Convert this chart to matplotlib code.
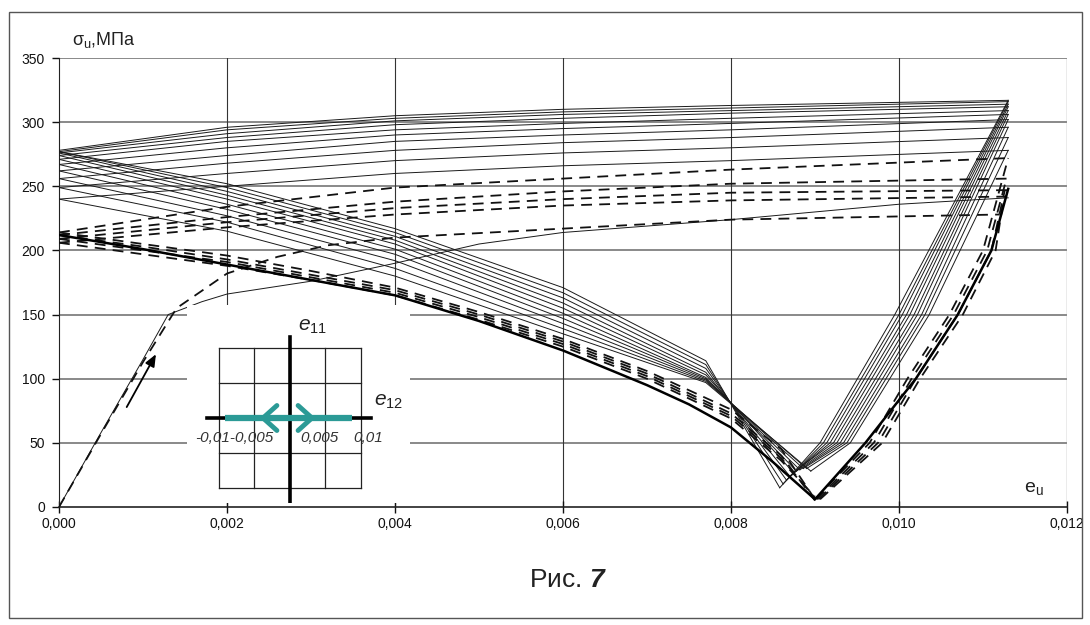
import matplotlib.pyplot as plt
from matplotlib.patches import Rectangle

plt.rcParams['font.family'] = ['Liberation Sans', 'DejaVu Sans']
plt.rcParams['mathtext.fontset'] = 'custom'
plt.rcParams['mathtext.rm'] = 'Liberation Sans'
plt.rcParams['mathtext.it'] = 'Liberation Sans:italic'
plt.rcParams['mathtext.bf'] = 'Liberation Sans:bold'
plt.rcParams['mathtext.bfit'] = 'Liberation Sans:italic:bold'

# ---------------- data ----------------
x_ticks = [0.0, 0.002, 0.004, 0.006, 0.008, 0.010, 0.012]
x_tick_labels = ['0,000', '0,002', '0,004', '0,006', '0,008', '0,010', '0,012']
y_ticks = [0, 50, 100, 150, 200, 250, 300, 350]

# first loading
load_solid_x = [0, 0.0005, 0.001, 0.0013, 0.0017, 0.002, 0.003, 0.004, 0.005, 0.006, 0.008, 0.010, 0.0113]
load_solid_y = [0, 58, 115, 150, 160, 166, 176, 190, 205, 214, 224, 236, 241]
load_dash_x = [0, 0.0005, 0.001, 0.0014, 0.002, 0.0026, 0.0032, 0.004, 0.006, 0.008, 0.0112]
load_dash_y = [0, 57, 113, 155, 182, 195, 204, 210, 217, 224, 228]

# solid cycles: upper branches (e_u 0 -> 0.0113)
up_x = [0, 0.002, 0.004, 0.006, 0.008, 0.0113]
up_s0 = [278, 296, 305, 310, 313, 317]
up_s1 = [277, 294, 303, 308, 311, 316]
up_s2 = [276, 291, 301, 306, 309, 314]
up_s3 = [274, 288, 298, 303, 307, 312]
up_s4 = [271, 285, 294, 299, 303, 309]
up_s5 = [267, 280, 290, 295, 299, 306]
up_s6 = [262, 274, 285, 290, 294, 302]
up_s7 = [256, 268, 278, 284, 288, 296]
up_s8 = [249, 260, 270, 276, 280, 288]
up_s9 = [240, 250, 260, 266, 270, 278]

# solid cycles: descending branches down to the V minimum
desc_x = [0, 0.002, 0.004, 0.006, 0.0077]
desc_s0 = [277, 252, 217, 171, 114]
desc_s1 = [277, 249, 214, 167, 111]
desc_s2 = [276, 246, 211, 163, 108]
desc_s3 = [274, 243, 208, 159, 105]
desc_s4 = [271, 240, 205, 155, 103]
desc_s5 = [267, 236, 201, 151, 101]
desc_s6 = [262, 232, 197, 147, 100]
desc_s7 = [256, 227, 192, 143, 99]
desc_s8 = [249, 222, 186, 139, 98]
desc_s9 = [240, 215, 180, 135, 97]
min_x = [0.00858, 0.00862, 0.00866, 0.0087, 0.00874, 0.00878, 0.00882, 0.00886, 0.0089, 0.00895]
min_y = [15, 18, 21, 24, 27, 28, 29, 30, 30, 28]

# solid cycles: rising branches from the minimum
rise_x50 = [0.00906, 0.0091, 0.00914, 0.00918, 0.00922, 0.00926, 0.0093, 0.00934, 0.00938, 0.00942]
rise_x150 = [0.00995, 0.01, 0.01004, 0.01009, 0.01013, 0.01018, 0.01022, 0.01027, 0.01031, 0.01036]
rise_top = [317, 316, 314, 312, 309, 306, 302, 296, 288, 278]

# dashed cycles: upper branches
up_d0 = [214, 234, 249, 256, 263, 272]
up_d1 = [212, 226, 238, 246, 252, 256]
up_d2 = [209, 222, 233, 240, 245, 247]
up_d3 = [206, 218, 228, 235, 239, 242]

# dashed cycles: descending branches
ddesc_x = [0, 0.001, 0.002, 0.003, 0.004, 0.005, 0.006, 0.007, 0.008, 0.0086, 0.009]
ddesc_d0 = [214, 205, 196, 184, 171, 152, 131, 106, 76, 45, 6]
ddesc_d1 = [212, 203, 193, 181, 169, 150, 129, 104, 73, 40, 5]
ddesc_d2 = [209, 200, 191, 179, 167, 148, 127, 102, 71, 38, 7]
ddesc_d3 = [206, 197, 188, 177, 165, 146, 125, 100, 69, 36, 8]

# dashed cycles: rising branches
drise_y0 = [6, 50, 100, 150, 200, 272]
drise_y1 = [6, 50, 100, 150, 200, 256]
drise_y2 = [6, 50, 100, 150, 200, 247]
drise_y3 = [6, 50, 100, 150, 200, 242]
drise_x0 = [0.009, 0.00965, 0.0101, 0.0106, 0.011, 0.0113]
drise_x1 = [0.00902, 0.0097, 0.01015, 0.01065, 0.01105, 0.01128]
drise_x2 = [0.00904, 0.00975, 0.0102, 0.0107, 0.0111, 0.01126]
drise_x3 = [0.00906, 0.0098, 0.01025, 0.01076, 0.01115, 0.01125]

# thick lower envelope
env_x = [0, 0.001, 0.002, 0.003, 0.004, 0.005, 0.006, 0.007, 0.0075, 0.008, 0.0085,
         0.009, 0.0096, 0.0102, 0.0107, 0.0111, 0.0113]
env_y = [212, 201, 189, 177, 165, 145, 122, 95, 80, 62, 35, 6, 50, 100, 150, 200, 248]

# ---------------- figure ----------------
fig = plt.figure(figsize=(10.9, 6.25), dpi=100)
fig.patches.append(Rectangle((9 / 1090, 1 - 618 / 625), 1073 / 1090, 606 / 625,
                             transform=fig.transFigure, fill=False,
                             edgecolor='#555555', lw=1.0))

ax = fig.add_axes([59 / 1090, 1 - 507 / 625, 1008 / 1090, 449 / 625])
ax.set_xlim(0, 0.012)
ax.set_ylim(0, 350)

for yv in y_ticks[1:]:
    ax.axhline(yv, color='#6a6a6a', lw=1.1, zorder=1)
for xv in x_ticks[1:-1]:
    ax.axvline(xv, color='#333333', lw=0.8, zorder=1)
ax.axvline(0.012, color='#9a9a9a', lw=1.0, zorder=1)

for s in ['top', 'right']:
    ax.spines[s].set_visible(False)
ax.spines['left'].set_color('#222222')
ax.spines['bottom'].set_color('#222222')
ax.spines['bottom'].set_linewidth(1.2)

ax.set_xticks(x_ticks)
ax.set_xticklabels(x_tick_labels)
ax.set_yticks(y_ticks)
ax.tick_params(axis='x', direction='inout', length=8, width=1, pad=3, labelsize=10, colors='#111111')
ax.tick_params(axis='y', direction='out', length=5, width=1, pad=5, labelsize=10, colors='#111111')

thin = dict(color='#1a1a1a', lw=0.7, zorder=3)
dash = dict(color='#111111', lw=1.3, ls=(0, (6, 4)), zorder=3)

ax.plot(load_solid_x, load_solid_y, **thin)
ax.plot(load_dash_x, load_dash_y, **dash)

ups = [up_s0, up_s1, up_s2, up_s3, up_s4, up_s5, up_s6, up_s7, up_s8, up_s9]
descs = [desc_s0, desc_s1, desc_s2, desc_s3, desc_s4, desc_s5, desc_s6, desc_s7, desc_s8, desc_s9]
for i in range(len(ups)):
    ax.plot(up_x, ups[i], **thin)
    ax.plot(desc_x + [min_x[i]], descs[i] + [min_y[i]], **thin)
    ax.plot([min_x[i], rise_x50[i], rise_x150[i], 0.0113],
            [min_y[i], 50, 150, rise_top[i]], **thin)

for yy in [up_d0, up_d1, up_d2, up_d3]:
    ax.plot(up_x, yy, **dash)
for yy in [ddesc_d0, ddesc_d1, ddesc_d2, ddesc_d3]:
    ax.plot(ddesc_x, yy, **dash)
for xx, yy in zip([drise_x0, drise_x1, drise_x2, drise_x3],
                  [drise_y0, drise_y1, drise_y2, drise_y3]):
    ax.plot(xx, yy, **dash)

ax.plot(env_x, env_y, color='#000000', lw=1.8, zorder=4)

# loading direction arrow
ax.annotate('', xy=(0.00117, 121), xytext=(0.00079, 76),
            arrowprops=dict(arrowstyle='-|>,head_length=0.6,head_width=0.25',
                            color='black', lw=1.3, mutation_scale=12))

ax.text(0.01160, 12, r'$\mathregular{e_u}$', fontsize=14, color='#222222', ha='center')
fig.text(72 / 1090, 1 - 40 / 625, r'$\mathregular{σ_u}$,МПа', fontsize=13,
         color='#222222', va='center')
fig.text(568 / 1090, 1 - 580 / 625, r'Рис. $\mathbfit{7}$', fontsize=19,
         color='#222222', ha='center', va='center')

# ---------------- inset: strain path ----------------
ins = fig.add_axes([187 / 1090, 1 - 503 / 625, 223 / 1090, 198 / 625])
ins.set_xlim(-0.0145, 0.0169)
ins.set_ylim(-0.01214, 0.01614)
ins.set_xticks([])
ins.set_yticks([])
for s in ins.spines.values():
    s.set_visible(False)
ins.set_facecolor('white')

cells = [-0.01, -0.005, 0, 0.005, 0.01]
for c in cells:
    ins.plot([c, c], [-0.01, 0.01], color='#222222', lw=0.9)
    ins.plot([-0.01, 0.01], [c, c], color='#222222', lw=0.9)
ins.plot([-0.0117, 0.0114], [0, 0], color='black', lw=2.6)
ins.plot([0, 0], [-0.012, 0.0116], color='black', lw=2.6)

teal = '#2b9a96'
ins.plot([-0.0092, 0.0087], [0, 0], color=teal, lw=4.5, solid_capstyle='butt')
ins.annotate('', xy=(-0.0047, 0), xytext=(-0.0015, 0),
             arrowprops=dict(arrowstyle='->,head_length=0.5,head_width=0.45',
                             color=teal, lw=3.5, mutation_scale=20))
ins.annotate('', xy=(0.0040, 0), xytext=(0.0008, 0),
             arrowprops=dict(arrowstyle='->,head_length=0.5,head_width=0.45',
                             color=teal, lw=3.5, mutation_scale=20))

lab = dict(fontsize=11, style='italic', color='#333333', va='center')
ins.text(-0.0079, -0.0029, '-0,01-0,005', ha='center', **lab)
ins.text(0.0042, -0.0029, '0,005', ha='center', **lab)
ins.text(0.0110, -0.0029, '0,01', ha='center', **lab)
ins.text(0.0012, 0.0130, r'$e_{\mathit{11}}$', fontsize=15, color='#222222', va='center')
ins.text(0.0118, 0.0024, r'$e_{\mathit{12}}$', fontsize=15, color='#222222', va='center')

fig.savefig('out.png', dpi=100)
